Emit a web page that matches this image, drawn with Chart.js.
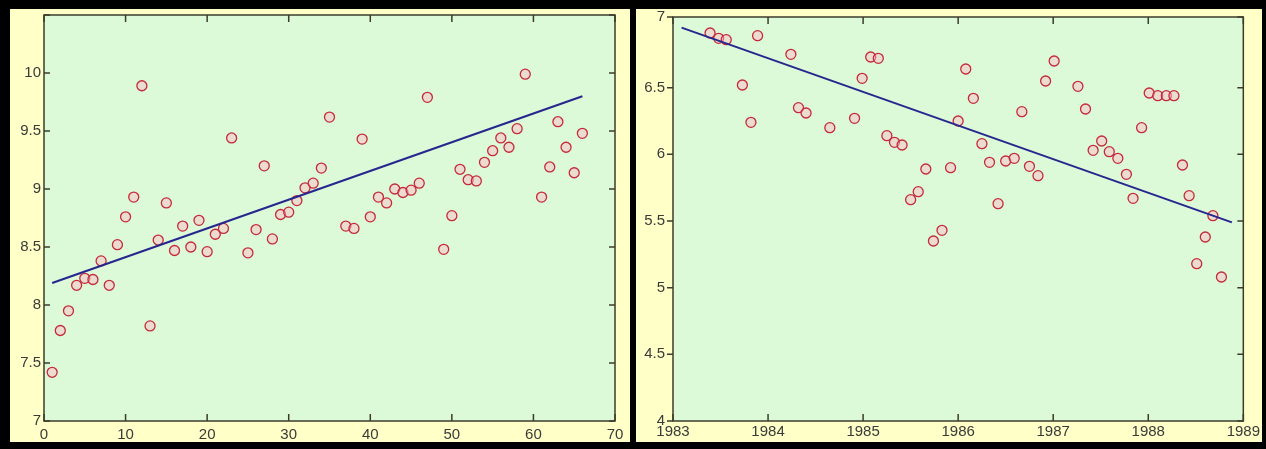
<!DOCTYPE html>
<html>
<head>
<meta charset="utf-8">
<script src="https://cdn.jsdelivr.net/npm/chart.js@4"></script>
<style>
  body { margin: 0; background: #000; width: 1266px; height: 449px; position: relative; overflow: hidden; }
  .panel { position: absolute; top: 9px; height: 433px; background: #ffffc8; }
  .wrap { position: absolute; top: 0; height: 442px; }
</style>
</head>
<body>
<div class="panel" style="left:10px;width:620px"></div>
<div class="panel" style="left:636px;width:626px"></div>
<div class="wrap" style="left:10px;width:620px"><canvas id="left"></canvas></div>
<div class="wrap" style="left:636px;width:626px"><canvas id="right"></canvas></div>
<script>
// left panel: index vs value
let leftX = [1,2,3,4,5,6,7,8,9,10,11,12,13,14,15,16,17,18,19,20,21,22,23,
  25,26,27,28,29,30,31,32,33,34,35,37,38,39,40,41,42,43,44,45,46,47,
  49,50,51,52,53,54,55,56,57,58,59,61,62,63,64,65,66];
let leftY = [7.42,7.78,7.95,8.17,8.23,8.22,8.38,8.17,8.52,8.76,8.93,9.89,7.82,8.56,8.88,8.47,8.68,8.50,8.73,8.46,8.61,8.66,9.44,
  8.45,8.65,9.20,8.57,8.78,8.80,8.90,9.01,9.05,9.18,9.62,8.68,8.66,9.43,8.76,8.93,8.88,9.00,8.97,8.99,9.05,9.79,
  8.48,8.77,9.17,9.08,9.07,9.23,9.33,9.44,9.36,9.52,9.99,8.93,9.19,9.58,9.36,9.14,9.48];
let leftFitX = [1, 66];
let leftFitY = [8.19, 9.80];

// right panel: year vs value
let rightX = [1983.39,1983.48,1983.56,1983.73,1983.82,1983.89,1984.24,1984.32,1984.40,1984.65,1984.91,1984.99,
  1985.08,1985.16,1985.25,1985.33,1985.41,1985.50,1985.58,1985.66,1985.74,1985.83,1985.92,
  1986.00,1986.08,1986.16,1986.25,1986.33,1986.42,1986.50,1986.59,1986.67,1986.75,1986.84,1986.92,
  1987.01,1987.26,1987.34,1987.42,1987.51,1987.59,1987.68,1987.77,1987.84,1987.93,
  1988.01,1988.10,1988.19,1988.27,1988.36,1988.43,1988.51,1988.60,1988.68,1988.77];
let rightY = [6.91,6.87,6.86,6.52,6.24,6.89,6.75,6.35,6.31,6.20,6.27,6.57,
  6.73,6.72,6.14,6.09,6.07,5.66,5.72,5.89,5.35,5.43,5.90,
  6.25,6.64,6.42,6.08,5.94,5.63,5.95,5.97,6.32,5.91,5.84,6.55,
  6.70,6.51,6.34,6.03,6.10,6.02,5.97,5.85,5.67,6.20,
  6.46,6.44,6.44,6.44,5.92,5.69,5.18,5.38,5.54,5.08];
let rightFitX = [1983.09, 1988.88];
let rightFitY = [6.95, 5.49];

let leftXTicks = [0, 70, 10];      // min, max, step
let leftYTicks = [7, 10.5, 0.5];
let rightXTicks = [1983, 1989, 1];
let rightYTicks = [4, 7.03, 0.5];

function toPoints(xs, ys){
  return xs.map((x, i) => ({x: x, y: ys[i]}));
}

// green plot area, box round it and inward tick marks (matlab style)
const axesBox = {
  id: 'axesBox',
  beforeDraw(chart, args, opts){
    const {ctx, chartArea: a} = chart;
    ctx.save();
    ctx.fillStyle = '#dcf9d8';
    ctx.fillRect(a.left, a.top, a.right - a.left, a.bottom - a.top);
    ctx.restore();
  },
  afterDraw(chart, args, opts){
    const {ctx, chartArea: a, scales: {x, y}} = chart;
    ctx.save();
    ctx.strokeStyle = '#3c3c2c';
    ctx.lineWidth = 1.5;
    ctx.strokeRect(a.left, a.top, a.right - a.left, a.bottom - a.top);
    ctx.beginPath();
    x.ticks.forEach(t => {
      let px = x.getPixelForValue(t.value);
      ctx.moveTo(px, a.bottom); ctx.lineTo(px, a.bottom - 7);
      ctx.moveTo(px, a.top); ctx.lineTo(px, a.top + 7);
    });
    y.ticks.forEach(t => {
      let py = y.getPixelForValue(t.value);
      ctx.moveTo(a.left, py); ctx.lineTo(a.left + (opts.leftOut ? -6 : 6), py);
      ctx.moveTo(a.right, py); ctx.lineTo(a.right - 6, py);
    });
    ctx.stroke();
    ctx.restore();
  }
};

function makeChart(id, pts, fit, xt, yt, sizes, yLabel, xLabel){
  return new Chart(document.getElementById(id), {
    type: 'scatter',
    data: {
      datasets: [
        {
          data: fit,
          showLine: true,
          pointRadius: 0,
          borderColor: '#26268e',
          borderWidth: 2
        },
        {
          data: pts,
          pointStyle: 'circle',
          pointRadius: 5,
          pointBorderWidth: 1.3,
          pointBorderColor: '#c42a3a',
          pointBackgroundColor: 'rgba(255,185,200,0.45)'
        }
      ]
    },
    options: {
      responsive: true,
      maintainAspectRatio: false,
      animation: false,
      layout: {padding: {top: sizes.top, right: sizes.right, left: 0, bottom: 0}},
      plugins: {legend: {display: false}, tooltip: {enabled: false}, axesBox: {leftOut: sizes.leftOut}},
      scales: {
        x: {
          type: 'linear', min: xt[0], max: xt[1],
          grid: {display: false, drawTicks: false}, border: {display: false},
          ticks: {stepSize: xt[2], padding: sizes.xPad, color: '#3a3a3a', font: {family: 'Liberation Sans, Arial', size: 15},
            maxRotation: 0, callback: xLabel},
          afterFit(s){ s.height = 21; }
        },
        y: {
          type: 'linear', min: yt[0], max: yt[1],
          grid: {display: false, drawTicks: false}, border: {display: false},
          ticks: {stepSize: yt[2], padding: sizes.yPad, color: '#3a3a3a', font: {family: 'Liberation Sans, Arial', size: 15},
            callback: yLabel},
          afterFit(s){ s.width = sizes.yWidth; }
        }
      }
    },
    plugins: [axesBox]
  });
}

makeChart('left', toPoints(leftX, leftY), toPoints(leftFitX, leftFitY), leftXTicks, leftYTicks,
  {top: 15, right: 15, yWidth: 34, xPad: 5, yPad: 3, leftOut: false},
  v => v > 10.4 ? '' : String(v),
  v => String(v));

makeChart('right', toPoints(rightX, rightY), toPoints(rightFitX, rightFitY), rightXTicks, rightYTicks,
  {top: 14, right: 18, yWidth: 37, xPad: 2, yPad: 8, leftOut: true},
  v => v > 7.01 ? '7' : (v > 6.9 ? '' : String(v)),
  v => String(v));
</script>
</body>
</html>
